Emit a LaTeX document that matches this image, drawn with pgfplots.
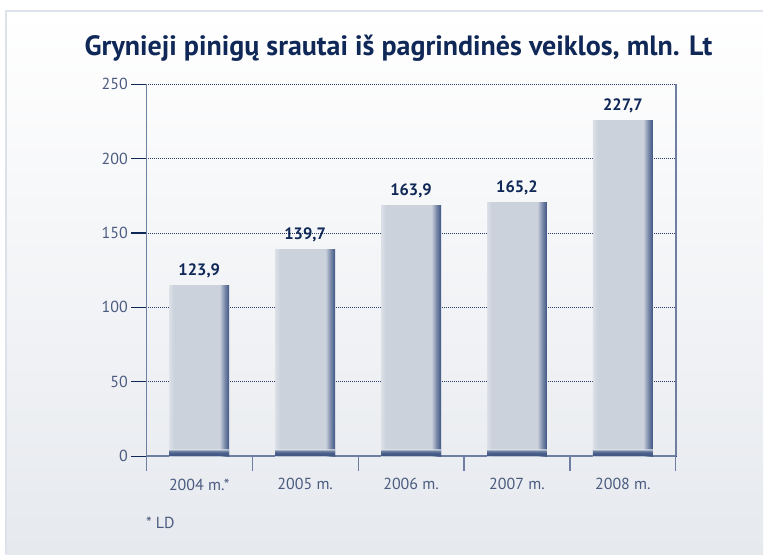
\documentclass[border=0pt]{standalone}
\usepackage{pgfplots}
\pgfplotsset{compat=1.18}
\usepackage{fontspec}
\setmainfont{PT Sans}

\definecolor{navy}{HTML}{0F2857}
\definecolor{tickcol}{HTML}{4B5B80}
\definecolor{axiscol}{HTML}{6E7FA2}
\definecolor{gridcol}{HTML}{2A3F70}
\definecolor{barL}{HTML}{DCE0E7}
\definecolor{barM}{HTML}{CBD2DC}
\definecolor{barE}{HTML}{7D8CAB}
\definecolor{barD}{HTML}{3D5482}
\definecolor{bgbot}{HTML}{E6E9EE}
\definecolor{framecol}{HTML}{DDE1E9}

\pgfdeclarehorizontalshading{barshade}{100bp}{color(0bp)=(barL); color(25bp)=(barL); color(29bp)=(barM); color(67bp)=(barM); color(71bp)=(barE); color(75bp)=(barD); color(100bp)=(barD)}
\pgfdeclareverticalshading{bandshade}{100bp}{color(0bp)=(barD); color(25bp)=(barD); color(50bp)=(barD!90!barM); color(65bp)=(barD!60!barM); color(75bp)=(barM); color(100bp)=(barM)}

\pgfplotsset{
  mybar/.style={draw=none, shading=barshade, bar shift=0pt,
    nodes near coords, point meta=explicit symbolic,
    every node near coord/.append style={font=\bfseries\fontsize{16.5bp}{16.5bp}\selectfont, text=navy, yshift=4bp}},
  myband/.style={draw=none, shading=bandshade, bar shift=0pt},
}

\begin{document}
\begin{tikzpicture}
% background and frame
\fill[white] (0,0) rectangle (764bp,555bp);
\shade[top color=white, middle color=white, bottom color=bgbot] (6bp,0) rectangle (764bp,544bp);
\draw[framecol, line width=2bp] (6bp,0) -- (6bp,544.3bp) -- (764bp,544.3bp);
\node[font=\bfseries\fontsize{28bp}{28bp}\selectfont, text=navy] at (399bp,507bp) {Grynieji pinigų srautai iš pagrindinės veiklos, mln. Lt};
\node[anchor=west, font=\fontsize{16bp}{16bp}\selectfont, text=tickcol, inner sep=0pt] at (146bp,31bp) {* LD};

\begin{axis}[
  at={(146.5bp,98.3bp)}, anchor=south west,
  scale only axis, width=530.2bp, height=372.4bp,
  xmin=-0.5, xmax=4.5, ymin=0, ymax=250,
  axis lines*=left,
  axis line style={draw=axiscol, line width=1.5bp},
  ytick={0,50,...,250},
  xtick={-0.5,0.5,...,4.5},
  x tick label as interval,
  xticklabels={2004 m.*,2005 m.,2006 m.,2007 m.,2008 m.},
  xticklabel style={yshift=-4bp},
  tick align=outside,
  major tick length=15bp,
  ytick style={draw=navy, line width=1.2bp},
  xtick style={draw=axiscol, line width=1.2bp},
  ymajorgrids,
  major grid style={draw=gridcol, line width=0.7bp, dash pattern=on 0.8bp off 1.2bp},
  ticklabel style={font=\fontsize{16bp}{16bp}\selectfont, text=tickcol},
  /pgf/number format/assume math mode=true,
  ybar, bar width=60bp,
  clip=false,
]
% bars (height; label = printed value)
\addplot[mybar] coordinates {(0,114.6) [123,9]};
\addplot[mybar] coordinates {(1,139.2) [139,7]};
\addplot[mybar] coordinates {(2,168.3) [163,9]};
\addplot[mybar] coordinates {(3,170.8) [165,2]};
\addplot[mybar] coordinates {(4,225.6) [227,7]};
% dark base band of each bar
\addplot[myband] coordinates {(0,4.5) (1,4.5) (2,4.5) (3,4.5) (4,4.5)};
\draw[axiscol, line width=1.5bp] (rel axis cs:1,0) -- (rel axis cs:1,1);
\end{axis}
\end{tikzpicture}
\end{document}
